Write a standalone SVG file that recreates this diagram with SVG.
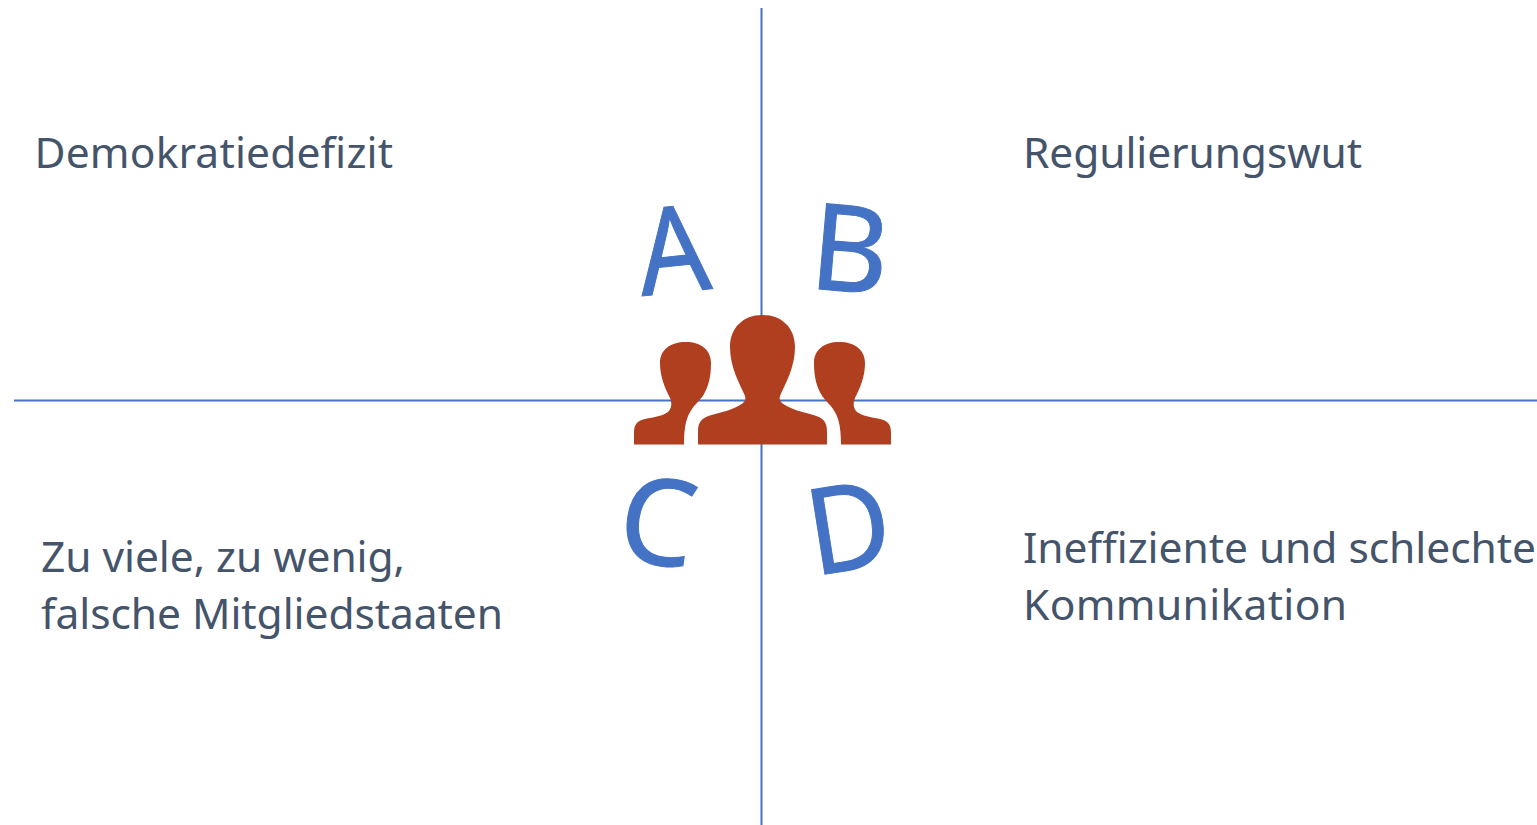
<svg xmlns="http://www.w3.org/2000/svg" width="1537" height="825" viewBox="0 0 1537 825">
<style>
.l{stroke:#4472c4;stroke-width:2;fill:none}
.t{font-family:"Noto Sans","Open Sans",sans-serif;font-size:42.5px;fill:#44546a}
.b{font-family:"Noto Sans","Open Sans",sans-serif;font-size:120px;fill:#4472c4;stroke:#4472c4;stroke-width:1}
.p{fill:#b03f20}
</style>
<defs>
<path id="side" class="p" d="M634 444.500V433C634 424 637 421 645 419C654 417 663 416 668 412C672 408 672 403 670 398C665 388 660 377 660 363C660 350 670 342 686 342C701 342 711 350 711 363C711 378 708 387 704 394C700 401 695 404 692 409C687 416 684 425 684 444.500Z"/>
</defs>
<rect width="1537" height="825" fill="#fff"/>
<g id="connectors">
<path class="l" d="M761.500 8V825"/>
<path class="l" d="M14 400.500H1537"/>
</g>
<g id="people">
<use href="#side"/>
<use href="#side" transform="matrix(-1 0 0 1 1525 0)"/>
<path class="p" d="M698 444.500V432C698 424 700 420 706 417C716 413 731 411 740 405C745 402 746 400 745 396C740 384 730 368 730 347C730 328 743 315 762.500 315C782 315 795 328 795 347C795 368 785 384 780 396C779 400 780 402 785 405C794 411 809 413 819 417C825 420 827 424 827 432V444.500Z"/>
</g>
<g id="A"><text class="t" x="34.500" y="167.500" textLength="358.500">Demokratiedefizit</text><text class="b" transform="translate(642 296) rotate(-6) scale(.93 1)">A</text></g>
<g id="B"><text class="t" x="1023" y="167.500" textLength="339">Regulierungswut</text><text class="b" transform="translate(807.500 288) rotate(5)">B</text></g>
<g id="C"><text class="t" x="41" y="571.500" textLength="364">Zu viele, zu wenig,</text><text class="t" x="41" y="628.500" textLength="462">falsche Mitgliedstaaten</text><text class="b" transform="translate(614.500 558.500) rotate(8)">C</text></g>
<g id="D"><text class="t" x="1023" y="562.500" textLength="513">Ineffiziente und schlechte</text><text class="t" x="1023" y="619.500" textLength="324">Kommunikation</text><text class="b" transform="translate(814 576) rotate(-9) scale(.95 1)">D</text></g>
</svg>
